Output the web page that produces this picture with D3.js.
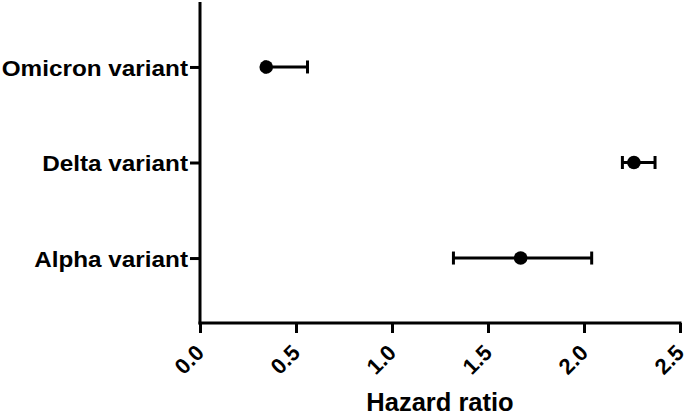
<!DOCTYPE html>
<html>
<head>
<meta charset="utf-8">
<script src="https://cdn.jsdelivr.net/npm/d3@7"></script>
<style>
  body { margin: 0; background: #fff; }
  text { font-family: "Liberation Sans", Arial, sans-serif; font-weight: bold; fill: #000; }
</style>
</head>
<body>
<div id="chart"></div>
<script>
// data
var variants = ["Omicron variant", "Delta variant", "Alpha variant"];
var hazard = [0.345, 2.26, 1.67];
var ciLow = [0.34, 2.2, 1.32];
var ciHigh = [0.56, 2.37, 2.04];
var xTicks = [0, 0.5, 1, 1.5, 2, 2.5];

var width = 688, height = 417;
var margin = {top: 2, right: 8, bottom: 94, left: 200};

var svg = d3.select("#chart").append("svg")
    .attr("width", width)
    .attr("height", height);

var x = d3.scaleLinear()
    .domain([0, 2.5])
    .range([margin.left, width - margin.right]);

var y = d3.scalePoint()
    .domain(variants)
    .range([margin.top, height - margin.bottom])
    .padding(0.68);

var bottom = height - margin.bottom;

// x axis
var xAxis = svg.append("g")
    .attr("transform", "translate(0," + bottom + ")")
    .call(d3.axisBottom(x).tickValues(xTicks).tickSize(10).tickSizeOuter(0).tickFormat(d3.format(".1f")));
xAxis.select(".domain").attr("stroke-width", 3).attr("d", "M" + (x(0) - 1.5) + ",0H" + (x(2.5) + 1.5));
xAxis.selectAll(".tick line").attr("stroke-width", 3);
xAxis.selectAll(".tick text")
    .attr("font-size", 22)
    .attr("text-anchor", "end")
    .attr("dy", null)
    .attr("y", null)
    .attr("transform", "translate(5,31) rotate(-45)");

// y axis
var yAxis = svg.append("g")
    .attr("transform", "translate(" + margin.left + ",0)")
    .call(d3.axisLeft(y).tickSize(10).tickSizeOuter(0).tickPadding(2));
yAxis.select(".domain").attr("stroke-width", 3).attr("d", "M0," + margin.top + "V" + (bottom + 1.5));
yAxis.selectAll(".tick line").attr("stroke-width", 3);
yAxis.selectAll(".tick text")
    .attr("font-size", 22.5)
    .attr("dy", "0.36em")
    .attr("transform", "scale(1.08,1)")
    .attr("x", -12 / 1.08);

// error bars
var rows = variants.map(function(v, i) {
    return {name: v, hr: hazard[i], lo: ciLow[i], hi: ciHigh[i]};
});

var bars = svg.append("g").selectAll("g")
    .data(rows)
    .join("g");

bars.append("line")
    .attr("x1", d => x(d.lo))
    .attr("x2", d => x(d.hi))
    .attr("y1", d => y(d.name))
    .attr("y2", d => y(d.name))
    .attr("stroke", "#000")
    .attr("stroke-width", 3);

bars.selectAll(".cap")
    .data(d => [{v: d.lo, name: d.name}, {v: d.hi, name: d.name}])
    .join("line")
    .attr("class", "cap")
    .attr("x1", d => x(d.v))
    .attr("x2", d => x(d.v))
    .attr("y1", d => y(d.name) - 6.5)
    .attr("y2", d => y(d.name) + 6.5)
    .attr("stroke", "#000")
    .attr("stroke-width", 3);

bars.append("circle")
    .attr("cx", d => x(d.hr))
    .attr("cy", d => y(d.name))
    .attr("r", 6.8)
    .attr("fill", "#000");

// axis title
svg.append("text")
    .attr("x", (x(0) + x(2.5)) / 2)
    .attr("y", 411)
    .attr("text-anchor", "middle")
    .attr("font-size", 25.5)
    .text("Hazard ratio");
</script>
</body>
</html>
